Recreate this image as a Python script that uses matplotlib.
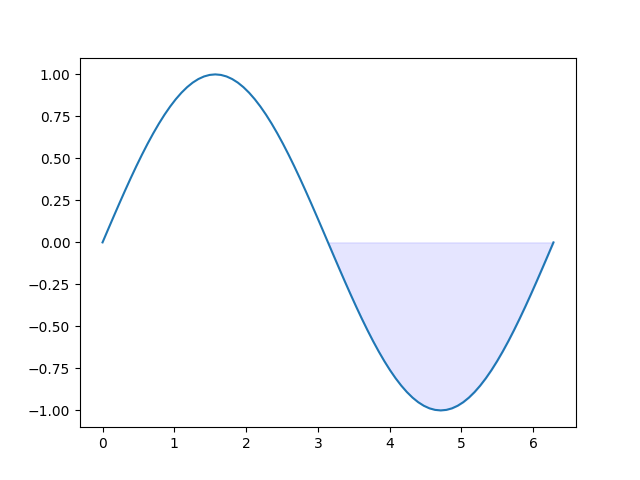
import numpy as np
import matplotlib.pyplot as plt

# values
x = [0.0000, 0.0785, 0.1571, 0.2356, 0.3142, 0.3927, 0.4712, 0.5498, 0.6283, 0.7069,
     0.7854, 0.8639, 0.9425, 1.0210, 1.0996, 1.1781, 1.2566, 1.3352, 1.4137, 1.4923,
     1.5708, 1.6493, 1.7279, 1.8064, 1.8850, 1.9635, 2.0420, 2.1206, 2.1991, 2.2777,
     2.3562, 2.4347, 2.5133, 2.5918, 2.6704, 2.7489, 2.8274, 2.9060, 2.9845, 3.0631,
     3.1416, 3.2201, 3.2987, 3.3772, 3.4558, 3.5343, 3.6128, 3.6914, 3.7699, 3.8485,
     3.9270, 4.0055, 4.0841, 4.1626, 4.2412, 4.3197, 4.3982, 4.4768, 4.5553, 4.6339,
     4.7124, 4.7909, 4.8695, 4.9480, 5.0265, 5.1051, 5.1836, 5.2622, 5.3407, 5.4193,
     5.4978, 5.5763, 5.6549, 5.7334, 5.8119, 5.8905, 5.9690, 6.0476, 6.1261, 6.2046,
     6.2832]
y = [0.0000, 0.0785, 0.1564, 0.2334, 0.3090, 0.3827, 0.4540, 0.5225, 0.5878, 0.6494,
     0.7071, 0.7604, 0.8090, 0.8526, 0.8910, 0.9239, 0.9511, 0.9724, 0.9877, 0.9969,
     1.0000, 0.9969, 0.9877, 0.9724, 0.9511, 0.9239, 0.8910, 0.8526, 0.8090, 0.7604,
     0.7071, 0.6494, 0.5878, 0.5225, 0.4540, 0.3827, 0.3090, 0.2334, 0.1564, 0.0785,
     0.0000, -0.0785, -0.1564, -0.2334, -0.3090, -0.3827, -0.4540, -0.5225, -0.5878, -0.6494,
     -0.7071, -0.7604, -0.8090, -0.8526, -0.8910, -0.9239, -0.9511, -0.9724, -0.9877, -0.9969,
     -1.0000, -0.9969, -0.9877, -0.9724, -0.9511, -0.9239, -0.8910, -0.8526, -0.8090, -0.7604,
     -0.7071, -0.6494, -0.5878, -0.5225, -0.4540, -0.3827, -0.3090, -0.2334, -0.1564, -0.0785,
     0.0000]

x = np.array(x)
y = np.array(y)

fig, ax = plt.subplots(figsize=(6.4, 4.8), dpi=100)
ax.plot(x, y)
mask = (y <= 0) & (x > 3)
ax.fill_between(x, y, 0, where=mask, color='blue', alpha=0.1)

fig.savefig('out.png')
